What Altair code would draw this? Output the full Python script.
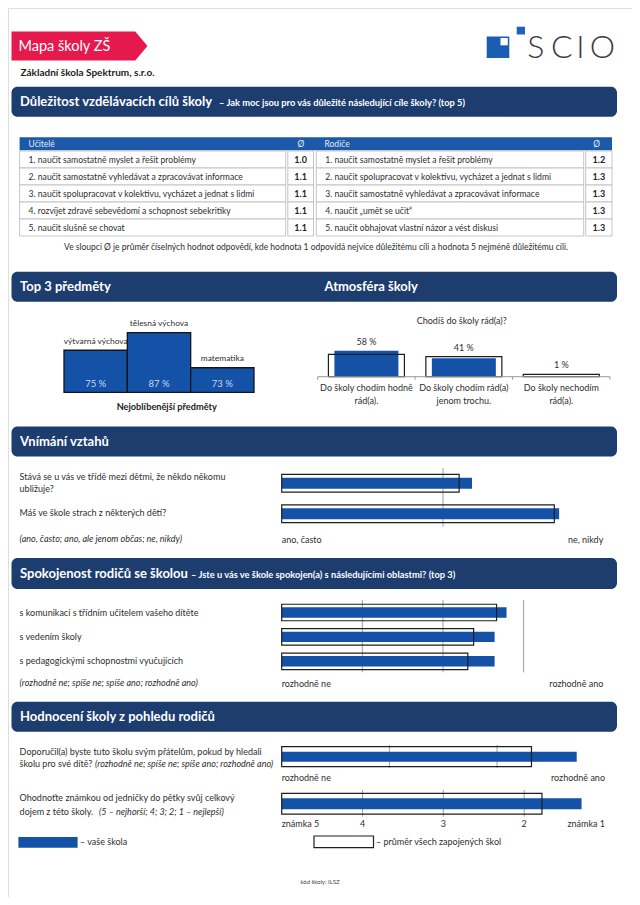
import altair as alt
import pandas as pd

# ---------------- data ----------------
school_name = "Základní škola Spektrum, s.r.o."

goals_teachers = [
    "1. naučit samostatně myslet a řešit problémy",
    "2. naučit samostatně vyhledávat a zpracovávat informace",
    "3. naučit spolupracovat v kolektivu, vycházet a jednat s lidmi",
    "4. rozvíjet zdravé sebevědomí a schopnost sebekritiky",
    "5. naučit slušně se chovat",
]
goals_teachers_avg = [1.0, 1.1, 1.1, 1.1, 1.1]
goals_parents = [
    "1. naučit samostatně myslet a řešit problémy",
    "2. naučit spolupracovat v kolektivu, vycházet a jednat s lidmi",
    "3. naučit samostatně vyhledávat a zpracovávat informace",
    "4. naučit „umět se učit“",
    "5. naučit obhajovat vlastní názor a vést diskusi",
]
goals_parents_avg = [1.2, 1.3, 1.3, 1.3, 1.3]

subjects = ["výtvarná výchova", "tělesná výchova", "matematika"]
subject_pct = [75, 87, 73]
subject_rank = [2, 1, 3]

atmo_answers = ["Do školy chodím hodně\nrád(a).", "Do školy chodím rád(a)\njenom trochu.", "Do školy nechodím\nrád(a)."]
atmo_school = [58, 41, 1]
atmo_avg = [50, 45, 5]

rel_questions = ["Stává se u vás ve třídě mezi dětmi, že někdo někomu\nubližuje?", "Máš ve škole strach z některých dětí?"]
rel_school = [2.18, 2.72]
rel_avg = [2.10, 2.69]

sat_items = ["s komunikací s třídním učitelem vašeho dítěte", "s vedením školy", "s pedagogickými schopnostmi vyučujících"]
sat_school = [69.7, 66.0, 66.0]
sat_avg = [66.6, 59.5, 57.7]
sat_grid = [25, 50, 75]

recommend_school = [3.74]
recommend_avg = [3.32]
recommend_grid = [2, 3]

grade_school = [1.29]
grade_avg = [1.78]
grade_ticks = [4, 3, 2]

# ---------------- style ----------------
FONT = "Lato"
NAVY = "#1c3d6e"
BLUE = "#1452a8"
TBLUE = "#1d59a9"
RED = "#e5194c"
TXT = "#2e2e2e"
GRID = "#a0a0a0"
BODY = 9
W, H = 624, 889


def P(v):
    return v - 8


one = pd.DataFrame({"k": [0]})
layers = []


def text(s, x, y, size=BODY, weight="normal", color=TXT, align="left", italic=False, baseline="middle"):
    kw = dict(text=s, align=align, baseline=baseline, fontSize=size, fontWeight=weight, color=color, font=FONT)
    if italic:
        kw["fontStyle"] = "italic"
    layers.append(alt.Chart(one).mark_text(**kw).encode(x=alt.value(P(x)), y=alt.value(P(y))))


def box(x1, x2, y1, y2, fill, stroke=None, sw=1.0, r=0):
    kw = dict(fill=fill, cornerRadius=r)
    if stroke:
        kw.update(stroke=stroke, strokeWidth=sw)
    layers.append(alt.Chart(one).mark_rect(**kw).encode(
        x=alt.value(P(x1)), x2=alt.value(P(x2)), y=alt.value(P(y1)), y2=alt.value(P(y2))))


def rule(x1, x2, y1, y2, color=GRID, sw=1.0):
    layers.append(alt.Chart(one).mark_rule(color=color, strokeWidth=sw).encode(
        x=alt.value(P(x1)), x2=alt.value(P(x2)), y=alt.value(P(y1)), y2=alt.value(P(y2))))


def header(y1, y2, title, sub=None, sub_x=None, title2=None, title2_x=None):
    box(11.5, 617, y1, y2, NAVY, r=6)
    yc = (y1 + y2) / 2 + 0.5
    text(title, 20, yc, size=13, weight="bold", color="white")
    if sub:
        text(sub, sub_x, yc + 1, size=9.3, weight="bold", color="white")
    if title2:
        text(title2, title2_x, yc, size=13, weight="bold", color="white")


# ---------------- page head ----------------
tag_path = "M-1,-0.215L0.82,-0.215L1,0L0.82,0.215L-1,0.215Z"
layers.append(alt.Chart(one).mark_point(shape=tag_path, size=136 * 136, filled=True, color=RED, opacity=1).encode(
    x=alt.value(P(79.5)), y=alt.value(P(46))))
text("Mapa školy ZŠ", 18.5, 46.5, size=14.5, color="white")
text(school_name, 20.5, 72.7, size=10, weight="bold", color="#222")

# SCIO logo
box(486.7, 509.3, 36.5, 58, "#1a5db3")
box(500.5, 507.8, 38, 45.3, "white")
box(516.7, 525, 26.7, 34.5, "#1f63b8")
for ch, cx in zip("SCIO", [535.8, 561.7, 580.5, 602.5]):
    text(ch, cx, 48, size=32, weight=300, color="#3a3a3a", align="center")

# ---------------- section 1: goals table ----------------
header(86.7, 116.7, "Důležitost vzdělávacích cílů školy",
       "– Jak moc jsou pro vás důležité následující cíle školy? (top 5)", 219)

box(19.6, 612, 137.3, 150.3, TBLUE)
text("Učitelé", 28.6, 144, size=8.5, color="#e4ecf7")
text("Ø", 300.8, 144, size=8.5, color="#e4ecf7", align="center")
text("Rodiče", 324.5, 144, size=8.5, color="#e4ecf7")
text("Ø", 596.7, 144, size=8.5, color="#e4ecf7", align="center")

rows = [1, 2, 3, 4, 5]
row_scale = alt.Scale(domain=rows, range=[P(151), P(236)], paddingInner=0, paddingOuter=0)
teach_df = pd.DataFrame({"row": rows, "goal": goals_teachers, "avg": goals_teachers_avg})
par_df = pd.DataFrame({"row": rows, "goal": goals_parents, "avg": goals_parents_avg})

for df, x_txt0, x_txt1, x_av0, x_av1 in [
    (teach_df, 19.6, 285.7, 287.8, 313.5),
    (par_df, 316.3, 583.7, 585.7, 612),
]:
    yr = alt.Y("row:O", axis=None, scale=row_scale)
    layers.append(alt.Chart(df).mark_rect(fill="white", stroke="#b8b8b8", strokeWidth=0.8).encode(
        x=alt.value(P(x_txt0)), x2=alt.value(P(x_txt1)), y=yr))
    layers.append(alt.Chart(df).mark_rect(fill="white", stroke="#b8b8b8", strokeWidth=0.8).encode(
        x=alt.value(P(x_av0)), x2=alt.value(P(x_av1)), y=yr))
    layers.append(alt.Chart(df).mark_text(align="left", baseline="middle", fontSize=8.6, font=FONT, color=TXT).encode(
        x=alt.value(P(x_txt0 + 9)), y=yr, text="goal:N"))
    layers.append(alt.Chart(df).mark_text(align="center", baseline="middle", fontSize=9, fontWeight="bold",
                                          font=FONT, color="#222").encode(
        x=alt.value(P((x_av0 + x_av1) / 2)), y=yr, text=alt.Text("avg:Q", format=".1f")))

text("Ve sloupci Ø je průměr číselných hodnot odpovědí, kde hodnota 1 odpovídá nejvíce důležitému cíli a hodnota 5 nejméně důležitému cíli.",
     316, 247.3, size=8.5, align="center")

# ---------------- section 2: top subjects + atmosphere ----------------
header(271.7, 301.7, "Top 3 předměty", title2="Atmosféra školy", title2_x=324.5)

subj_df = pd.DataFrame({"subject": subjects, "pct": subject_pct, "rank": subject_rank})
xs = alt.X("subject:N", sort=subjects, axis=None,
           scale=alt.Scale(domain=subjects, range=[P(64), P(254)], paddingInner=0, paddingOuter=0))
# podium: 1st place tallest
PODIUM_FLOOR = -0.4
ys_scale = alt.Scale(domain=[PODIUM_FLOOR, 3], range=[P(392.3), P(332.7)], nice=False, zero=False)
ys = alt.Y("level:Q", axis=None, scale=ys_scale)
base_s = alt.Chart(subj_df).transform_calculate(label="datum.pct + ' %'", level="4 - datum.rank")
layers.append(base_s.mark_bar(color=BLUE, stroke="#141414", strokeWidth=1.3).encode(
    x=xs, y=ys, y2=alt.datum(PODIUM_FLOOR)))
layers.append(base_s.mark_text(align="center", baseline="middle", fontSize=9.5, font=FONT, color="#c9d8f0").encode(
    x=xs, y=alt.value(P(384)), text="label:N"))
layers.append(base_s.mark_text(align="center", baseline="middle", fontSize=8.4, font=FONT, color=TXT, dy=-9.5).encode(
    x=xs, y=ys, text="subject:N"))
text("Nejoblíbenější předměty", 166.7, 406.7, size=9.2, weight="bold", align="center", color="#222")

text("Chodíš do školy rád(a)?", 461.7, 320.7, align="center")
atmo_df = pd.DataFrame({"answer": atmo_answers, "school": atmo_school, "avg": atmo_avg})
BASE_A = 376.7
xa = alt.X("answer:N", sort=atmo_answers, axis=None,
           scale=alt.Scale(domain=atmo_answers, range=[P(317.7), P(610)], paddingInner=0, paddingOuter=0))
ya_scale = alt.Scale(domain=[0, 100], range=[P(BASE_A), P(BASE_A - 44.8)], nice=False)
base_a = alt.Chart(atmo_df).transform_calculate(top="max(datum.school, datum.avg)", label="datum.school + ' %'")
layers.append(base_a.mark_bar(width=64, color=BLUE).encode(
    x=xa, y=alt.Y("school:Q", axis=None, scale=ya_scale), y2=alt.datum(0)))
layers.append(base_a.mark_bar(width=76, fill="transparent", stroke="#1e1e1e", strokeWidth=1.2).encode(
    x=xa, y=alt.Y("avg:Q", axis=None, scale=ya_scale), y2=alt.datum(0)))
layers.append(base_a.mark_text(align="center", baseline="middle", fontSize=BODY, font=FONT, color=TXT, dy=-9).encode(
    x=xa, y=alt.Y("top:Q", axis=None, scale=ya_scale), text="label:N"))
layers.append(base_a.mark_text(align="center", baseline="top", fontSize=BODY, font=FONT, color=TXT,
                               lineBreak="\n", lineHeight=12.3).encode(
    x=xa, y=alt.value(P(384.3)), text="answer:N"))
rule(317.7, 610, BASE_A, BASE_A, color="#9a9a9a")
for tx in [317.7, 415.1, 512.6, 610]:
    rule(tx, tx, BASE_A, BASE_A + 3, color="#9a9a9a")

# ---------------- section 3: relations ----------------
header(426.5, 456.5, "Vnímání vztahů")
rel_df = pd.DataFrame({"q": rel_questions, "school": rel_school, "avg": rel_avg})
REL_TOP, REL_STEP = 468, 30.5
yq = alt.Y("q:N", sort=rel_questions, axis=None,
           scale=alt.Scale(domain=rel_questions, range=[P(REL_TOP), P(REL_TOP + 2 * REL_STEP)],
                           paddingInner=0, paddingOuter=0))
xr_scale = alt.Scale(domain=[1, 3], range=[P(281.7), P(604.3)], nice=False, zero=False)
layers.append(alt.Chart(one).mark_rule(color=GRID, strokeWidth=1).encode(
    x=alt.X(datum=2, scale=xr_scale, axis=None), y=alt.value(P(468)), y2=alt.value(P(526.7))))
layers.append(alt.Chart(rel_df).mark_bar(height=10.8, color=BLUE).encode(
    x=alt.X("school:Q", scale=xr_scale, axis=None), x2=alt.datum(1), y=yq))
layers.append(alt.Chart(rel_df).mark_bar(height=17.8, fill="transparent", stroke="#1e1e1e", strokeWidth=1.2).encode(
    x=alt.X("avg:Q", scale=xr_scale, axis=None), x2=alt.datum(1), y=yq))
for i, q in enumerate(rel_questions):
    lines = q.split("\n")
    yc = REL_TOP + REL_STEP * (i + 0.5) - 0.3
    for k, ln in enumerate(lines):
        text(ln, 19.6, yc - (len(lines) - 1) * 6.4 + k * 12.8)
text("(ano, často; ano, ale jenom občas; ne, nikdy)", 19.6, 538.5, italic=True)
text("ano, často", 281.7, 539.5)
text("ne, nikdy", 603.3, 539.5, align="right")

# ---------------- section 4: satisfaction ----------------
header(558, 589, "Spokojenost rodičů se školou",
       "– Jste u vás ve škole spokojen(a) s následujícími oblastmi? (top 3)", 191)
sat_df = pd.DataFrame({"item": sat_items, "school": sat_school, "avg": sat_avg})
ysat = alt.Y("item:N", sort=sat_items, axis=None,
             scale=alt.Scale(domain=sat_items, range=[P(600.3), P(673.5)], paddingInner=0, paddingOuter=0))
xsat_scale = alt.Scale(domain=[0, 100], range=[P(281.7), P(604.3)], nice=False)
grid_df = pd.DataFrame({"g": sat_grid})
layers.append(alt.Chart(grid_df).mark_rule(color=GRID, strokeWidth=1).encode(
    x=alt.X("g:Q", scale=xsat_scale, axis=None), y=alt.value(P(600)), y2=alt.value(P(672.3))))
layers.append(alt.Chart(sat_df).mark_bar(height=10.4, color=BLUE).encode(
    x=alt.X("school:Q", scale=xsat_scale, axis=None), x2=alt.datum(0), y=ysat))
layers.append(alt.Chart(sat_df).mark_bar(height=16.5, fill="transparent", stroke="#1e1e1e", strokeWidth=1.2).encode(
    x=alt.X("avg:Q", scale=xsat_scale, axis=None), x2=alt.datum(0), y=ysat))
layers.append(alt.Chart(sat_df).mark_text(align="left", baseline="middle", fontSize=BODY, font=FONT, color=TXT).encode(
    x=alt.value(P(19.6)), y=ysat, text="item:N"))
text("(rozhodně ne; spíše ne; spíše ano; rozhodně ano)", 19.6, 683, italic=True)
text("rozhodně ne", 281.7, 683.5)
text("rozhodně ano", 603.3, 683.5, align="right")

# ---------------- section 5: evaluation ----------------
header(701.7, 731.7, "Hodnocení školy z pohledu rodičů")

text("Doporučil(a) byste tuto školu svým přátelům, pokud by hledali", 19.6, 751.7)
text("školu pro své dítě?", 19.6, 763.5)
text("(rozhodně ne; spíše ne; spíše ano; rozhodně ano)", 95, 763.5, italic=True)

rec_df = pd.DataFrame({"q": ["doporučení"], "school": recommend_school, "avg": recommend_avg})
yrec = alt.Y("q:N", axis=None, scale=alt.Scale(domain=["doporučení"], range=[P(745), P(768.4)], paddingInner=0, paddingOuter=0))
xrec_scale = alt.Scale(domain=[1, 4], range=[P(281.7), P(604.7)], nice=False, zero=False)
layers.append(alt.Chart(pd.DataFrame({"g": recommend_grid})).mark_rule(color=GRID, strokeWidth=1).encode(
    x=alt.X("g:Q", scale=xrec_scale, axis=None), y=alt.value(P(745)), y2=alt.value(P(768))))
layers.append(alt.Chart(rec_df).mark_bar(height=10, color=BLUE).encode(
    x=alt.X("school:Q", scale=xrec_scale, axis=None), x2=alt.datum(1), y=yrec))
layers.append(alt.Chart(rec_df).mark_bar(height=20, fill="transparent", stroke="#1e1e1e", strokeWidth=1.2).encode(
    x=alt.X("avg:Q", scale=xrec_scale, axis=None), x2=alt.datum(1), y=yrec))
text("rozhodně ne", 281.7, 778.3)
text("rozhodně ano", 605, 778.3, align="right")

text("Ohodnoťte známkou od jedničky do pětky svůj celkový", 19.6, 798.3)
text("dojem z této školy.", 19.6, 811.7)
text("(5 – nejhorší; 4; 3; 2; 1 – nejlepší)", 99, 811.7, italic=True)

gr_df = pd.DataFrame({"q": ["známka"], "school": grade_school, "avg": grade_avg})
ygr = alt.Y("q:N", axis=None, scale=alt.Scale(domain=["známka"], range=[P(793), P(814.4)], paddingInner=0, paddingOuter=0))
xgr_scale = alt.Scale(domain=[5, 1], range=[P(281.7), P(605)], nice=False, zero=False)
tick_df = pd.DataFrame({"g": grade_ticks})
layers.append(alt.Chart(tick_df).mark_rule(color=GRID, strokeWidth=1).encode(
    x=alt.X("g:Q", scale=xgr_scale, axis=None), y=alt.value(P(790)), y2=alt.value(P(816.7))))
layers.append(alt.Chart(gr_df).mark_bar(height=11, color=BLUE).encode(
    x=alt.X("school:Q", scale=xgr_scale, axis=None), x2=alt.datum(5), y=ygr))
layers.append(alt.Chart(gr_df).mark_bar(height=20.7, fill="transparent", stroke="#1e1e1e", strokeWidth=1.2).encode(
    x=alt.X("avg:Q", scale=xgr_scale, axis=None), x2=alt.datum(5), y=ygr))
layers.append(alt.Chart(tick_df).mark_text(align="center", baseline="middle", fontSize=BODY, font=FONT, color=TXT).encode(
    x=alt.X("g:Q", scale=xgr_scale, axis=None), y=alt.value(P(824.3)), text="g:Q"))
text("známka 5", 281.7, 824.3)
text("známka 1", 605, 824.3, align="right")

# legend
box(18.4, 77.6, 837, 847.7, BLUE)
text("– vaše škola", 80, 842.3)
box(314, 373.5, 836, 847.7, "white", stroke="#1e1e1e", sw=1.2)
text("– průměr všech zapojených škol", 376, 842.3)

text("kód školy: ILSZ", 320, 882, size=6, align="center", color="#444")

chart = alt.layer(*layers).resolve_scale(x="independent", y="independent").properties(
    width=W, height=H, padding=0, autosize=alt.AutoSizeParams(type="none")
).configure_view(stroke=None).configure(background="white")

chart.save("out.html", embed_options={"renderer": "svg", "actions": False})
